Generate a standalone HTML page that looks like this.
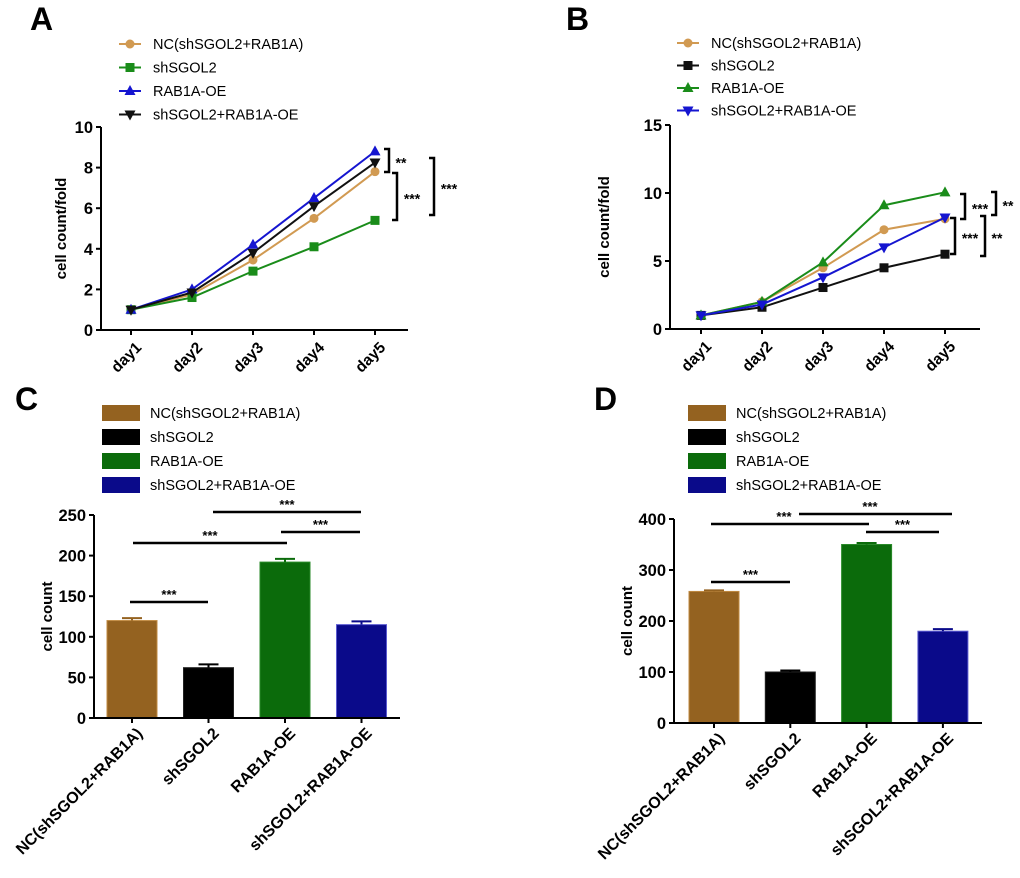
<!DOCTYPE html>
<html><head><meta charset="utf-8"><style>
body{margin:0;background:#fff;width:1020px;height:873px;overflow:hidden;font-family:"Liberation Sans",Arial,sans-serif}
svg text{font-family:"Liberation Sans",Arial,sans-serif}
</style></head><body>
<svg id="fig" width="1020" height="873" xmlns="http://www.w3.org/2000/svg"></svg>
<script>
const days=["day1","day2","day3","day4","day5"];
const seriesNames=["NC(shSGOL2+RAB1A)","shSGOL2","RAB1A-OE","shSGOL2+RAB1A-OE"];
const aNC=[1,1.75,3.45,5.5,7.8];
const aSh=[1,1.6,2.9,4.1,5.4];
const aOE=[1,2.0,4.2,6.5,8.8];
const aCombo=[1,1.85,3.8,6.1,8.25];
const aTicks=[0,2,4,6,8,10];
const bNC=[1,2,4.5,7.3,8.1];
const bSh=[1,1.6,3.05,4.5,5.5];
const bOE=[1,2,4.9,9.1,10.05];
const bCombo=[1,1.8,3.8,6.0,8.2];
const bTicks=[0,5,10,15];
const cValues=[120,62,192,115];
const cErrors=[3,4,4,4];
const cTicks=[0,50,100,150,200,250];
const dValues=[258,100,350,180];
const dErrors=[2,3,3,4];
const dTicks=[0,100,200,300,400];

const svg=document.getElementById('fig');
const NS='http://www.w3.org/2000/svg';
function el(tag,attrs,parent){const e=document.createElementNS(NS,tag);for(const k in attrs)e.setAttribute(k,attrs[k]);(parent||svg).appendChild(e);return e;}
function txt(s,x,y,size,weight,anchor,parent,extra){const t=el('text',Object.assign({x:x,y:y,'font-size':size,'font-weight':weight,'text-anchor':anchor,fill:'#000'},extra||{}),parent);t.textContent=s;return t;}

function marker(g,type,x,y,c){
  let m;
  if(type==='circle')m=el('circle',{cx:x,cy:y,r:4.5,fill:c},g);
  else if(type==='square')m=el('rect',{x:x-4.5,y:y-4.5,width:9,height:9,fill:c},g);
  else if(type==='up')m=el('polygon',{points:`${x},${y-6} ${x-5.5},${y+4} ${x+5.5},${y+4}`,fill:c},g);
  else m=el('polygon',{points:`${x},${y+6} ${x-5.5},${y-4} ${x+5.5},${y-4}`,fill:c},g);
  return m;
}

function letter(s,x,y){const t=txt(s,x,y,32,'bold','start');}

function lineChart(cfg){
  const g=el('g',{});
  
  
  const ys=v=>cfg.y0-(v/cfg.max)*(cfg.y0-cfg.yTop);
  const xs=i=>cfg.xFirst+i*cfg.xStep;
  const ax=el('g',{},g);
  
  
  el('line',{x1:cfg.xAxis,y1:cfg.yTop,x2:cfg.xAxis,y2:cfg.y0+1,stroke:'#000','stroke-width':2},ax);
  cfg.ticks.forEach(t=>{el('line',{x1:cfg.xAxis-5,y1:ys(t),x2:cfg.xAxis,y2:ys(t),stroke:'#000','stroke-width':2},ax);txt(String(t),cfg.xAxis-8,ys(t)+6,16.5,'bold','end',ax);});
  const xa=el('g',{},g);
  
  
  el('line',{x1:cfg.xAxis-1,y1:cfg.y0,x2:cfg.xEnd,y2:cfg.y0,stroke:'#000','stroke-width':2},xa);
  days.forEach((d,i)=>{const x=xs(i);el('line',{x1:x,y1:cfg.y0,x2:x,y2:cfg.y0+5,stroke:'#000','stroke-width':2},xa);
    txt(d,x+4,cfg.y0+11,15.5,'bold','end',xa,{transform:`rotate(-45 ${x+4} ${cfg.y0+11})`,'dominant-baseline':'hanging'});});
  const yt=txt('cell count/fold',cfg.yTitleX,(cfg.y0+cfg.yTop)/2,15,'bold','middle',g,{transform:`rotate(-90 ${cfg.yTitleX} ${(cfg.y0+cfg.yTop)/2})`});
  
  
  cfg.series.forEach(s=>{
    const sg=el('g',{},g);
    
    
    el('polyline',{points:s.vals.map((v,i)=>xs(i)+','+ys(v)).join(' '),fill:'none',stroke:s.color,'stroke-width':2},sg);
    s.vals.forEach((v,i)=>marker(sg,s.marker,xs(i),ys(v),s.color));
  });
  const lg=el('g',{},g);
  
  
  cfg.series.forEach((s,i)=>{
    const y=cfg.legY+i*cfg.legStep;
    const e=el('g',{},lg);
    
    
    el('line',{x1:cfg.legX,y1:y,x2:cfg.legX+22,y2:y,stroke:s.color,'stroke-width':2},e);
    marker(e,s.marker,cfg.legX+11,y,s.color);
    txt(seriesNames[i],cfg.legX+34,y+5,14.5,'normal','start',e);
  });
  cfg.brackets.forEach(b=>{
    const bg=el('g',{},g);
    
    
    el('polyline',{points:`${b.x-5},${b.y1} ${b.x},${b.y1} ${b.x},${b.y2} ${b.x-5},${b.y2}`,fill:'none',stroke:'#000','stroke-width':2.5},bg);
    txt(b.t,b.x+4+ (b.t.length===2?8:11),(b.y1+b.y2)/2+7,14,'bold','middle',bg);
  });
}

function barChart(cfg){
  const g=el('g',{});
  
  
  const ys=v=>cfg.y0-(v/cfg.max)*(cfg.y0-cfg.yTop);
  const xs=i=>cfg.xFirst+i*cfg.xStep;
  const ax=el('g',{},g);
  
  
  el('line',{x1:cfg.xAxis,y1:cfg.yTop,x2:cfg.xAxis,y2:cfg.y0+1,stroke:'#000','stroke-width':2},ax);
  cfg.ticks.forEach(t=>{el('line',{x1:cfg.xAxis-5,y1:ys(t),x2:cfg.xAxis,y2:ys(t),stroke:'#000','stroke-width':2},ax);txt(String(t),cfg.xAxis-8,ys(t)+6,16.5,'bold','end',ax);});
  const yt=txt('cell count',cfg.yTitleX,(cfg.y0+cfg.yTop)/2,15,'bold','middle',g,{transform:`rotate(-90 ${cfg.yTitleX} ${(cfg.y0+cfg.yTop)/2})`});
  
  
  cfg.values.forEach((v,i)=>{
    const x=xs(i);
    const b=el('rect',{x:x-25,y:ys(v),width:50,height:cfg.y0-ys(v),fill:cfg.colors[i],stroke:cfg.edges[i],'stroke-width':1});
    
    
    g.appendChild(b);
    const eb=el('g',{},g);
    
    
    const yt2=ys(v+cfg.errors[i]);
    el('line',{x1:x,y1:ys(v),x2:x,y2:yt2,stroke:cfg.colors[i],'stroke-width':2},eb);
    el('line',{x1:x-10,y1:yt2,x2:x+10,y2:yt2,stroke:cfg.colors[i],'stroke-width':2},eb);
  });
  const xa=el('g',{},g);
  
  
  el('line',{x1:cfg.xAxis-1,y1:cfg.y0,x2:cfg.xEnd,y2:cfg.y0,stroke:'#000','stroke-width':2},xa);
  seriesNames.forEach((n,i)=>{const x=xs(i);el('line',{x1:x,y1:cfg.y0,x2:x,y2:cfg.y0+5,stroke:'#000','stroke-width':2},xa);
    txt(n,x+4,cfg.y0+9,16,'bold','end',xa,{transform:`rotate(-45 ${x+4} ${cfg.y0+9})`,'dominant-baseline':'hanging'});});
  const lg=el('g',{},g);
  
  
  seriesNames.forEach((n,i)=>{
    const y=cfg.legY+i*24;
    const e=el('g',{},lg);
    
    
    el('rect',{x:cfg.legX,y:y-8,width:38,height:16,fill:cfg.colors[i]},e);
    txt(n,cfg.legX+48,y+5,14.5,'normal','start',e);
  });
  cfg.sig.forEach(s=>{
    const sg=el('g',{},g);
    
    
    el('line',{x1:s.x1,y1:s.y,x2:s.x2,y2:s.y,stroke:'#000','stroke-width':2.5},sg);
    txt('***',s.tx!==undefined?s.tx:(s.x1+s.x2)/2,s.y-3,13,'bold','middle',sg);
  });
}

letter('A',30,30);letter('B',566,30);letter('C',15,410);letter('D',594,410);

lineChart({name:'chart-a',xAxis:101,yTop:127,y0:330,max:10,xFirst:131,xStep:61,xEnd:408,ticks:aTicks,yTitleX:66,
  legX:119,legY:44,legStep:23.5,
  series:[{key:'nc',vals:aNC,color:'#d19a52',marker:'circle'},{key:'shsgol2',vals:aSh,color:'#1a8c1a',marker:'square'},
          {key:'rab1a-oe',vals:aOE,color:'#1515d0',marker:'up'},{key:'combo',vals:aCombo,color:'#111',marker:'down'}],
  brackets:[{x:389,y1:149,y2:172,t:'**'},{x:397,y1:173,y2:220,t:'***'},{x:434,y1:158,y2:215,t:'***'}]});

lineChart({name:'chart-b',xAxis:670,yTop:125,y0:329,max:15,xFirst:701,xStep:61,xEnd:980,ticks:bTicks,yTitleX:609,
  legX:677,legY:43,legStep:22.5,
  series:[{key:'nc',vals:bNC,color:'#d19a52',marker:'circle'},{key:'shsgol2',vals:bSh,color:'#111',marker:'square'},
          {key:'rab1a-oe',vals:bOE,color:'#1a8c1a',marker:'up'},{key:'combo',vals:bCombo,color:'#1515d0',marker:'down'}],
  brackets:[{x:965,y1:194,y2:219,t:'***'},{x:996,y1:192,y2:215,t:'**'},{x:955,y1:218,y2:254,t:'***'},{x:985,y1:216,y2:256,t:'**'}]});

barChart({name:'chart-c',xAxis:94,yTop:515,y0:718,max:250,xFirst:132,xStep:76.5,xEnd:400,ticks:cTicks,yTitleX:52,
  values:cValues,errors:cErrors,colors:['#946220','#000','#0b6b0b','#0a0a8a'],edges:['#c08a40','#222','#2a8a2a','#5a5ad0'],
  legX:102,legY:413,
  sig:[{x1:130,x2:208,y:602},{x1:133,x2:287,y:543},{x1:213,x2:361,y:512,tx:287},{x1:281,x2:360,y:532}]});

barChart({name:'chart-d',xAxis:674,yTop:519,y0:723,max:400,xFirst:714,xStep:76.3,xEnd:982,ticks:dTicks,yTitleX:632,
  values:dValues,errors:dErrors,colors:['#946220','#000','#0b6b0b','#0a0a8a'],edges:['#c08a40','#222','#2a8a2a','#5a5ad0'],
  legX:688,legY:413,
  sig:[{x1:711,x2:790,y:582},{x1:711,x2:869,y:524,tx:784},{x1:799,x2:952,y:514,tx:870},{x1:866,x2:939,y:532}]});
</script>
</body></html>
